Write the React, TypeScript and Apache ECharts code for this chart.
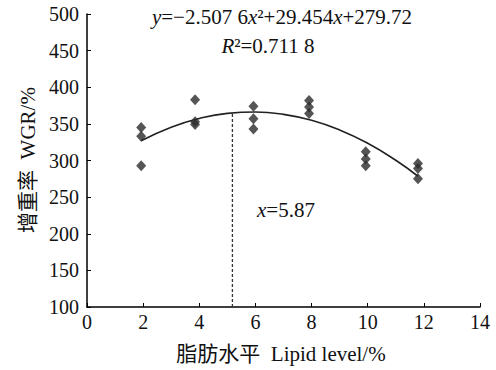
import React, { useEffect, useRef } from "react";
import * as echarts from "echarts";

const groupX = [1.93, 3.85, 5.93, 7.91, 9.93, 11.79];
const groupY = [
  [345, 333, 293],
  [383, 353, 349],
  [374, 357, 343],
  [382, 373, 364],
  [312, 302, 293],
  [296, 289, 275],
];
const curveX = [1.93, 3, 4, 5, 6, 7, 8, 9, 10, 11, 11.79];
const curveY = [327, 345.5, 357.4, 364.3, 366.2, 363, 354.9, 341.7, 323.5, 300.3, 278.5];
const optimumX = 5.18;
const optimumTop = 365;
const xTicks = [0, 2, 4, 6, 8, 10, 12, 14];
const yTicks = [100, 150, 200, 250, 300, 350, 400, 450, 500];

const SERIF = "'Liberation Serif', 'Times New Roman', 'Noto Sans CJK SC', serif";

export default function App() {
  const ref = useRef<HTMLDivElement>(null);
  useEffect(() => {
    if (!ref.current) return;
    const chart = echarts.init(ref.current, null, { renderer: "svg" });
    const scatterData: number[][] = [];
    groupX.forEach((x, i) => groupY[i].forEach((y) => scatterData.push([x, y])));
    const curveData = curveX.map((x, i) => [x, curveY[i]]);
    const FS = 21;
    chart.setOption({
      animation: false,
      backgroundColor: "#fff",
      grid: { left: 87, right: 16, top: 14, bottom: 63 },
      xAxis: {
        type: "value",
        min: xTicks[0],
        max: xTicks[xTicks.length - 1],
        interval: 2,
        axisLine: { lineStyle: { color: "#000", width: 1.5 } },
        axisTick: { inside: true, length: 4, lineStyle: { color: "#000" } },
        axisLabel: { color: "#111", fontSize: 20, fontFamily: SERIF, margin: 5 },
        splitLine: { show: false },
      },
      yAxis: {
        type: "value",
        min: yTicks[0],
        max: yTicks[yTicks.length - 1],
        interval: 50,
        axisLine: { show: true, lineStyle: { color: "#000", width: 1.5 } },
        axisTick: { show: true, inside: true, length: 4, lineStyle: { color: "#000" } },
        axisLabel: { color: "#111", fontSize: 20, fontFamily: SERIF, margin: 8 },
        splitLine: { show: false },
      },
      series: [
        {
          type: "line",
          data: curveData,
          smooth: true,
          symbol: "none",
          lineStyle: { color: "#222", width: 1.6 },
          z: 2,
        },
        {
          type: "line",
          data: [
            [optimumX, yTicks[0]],
            [optimumX, optimumTop],
          ],
          symbol: "none",
          lineStyle: { color: "#333", width: 1.3, type: [3, 2] },
          z: 1,
        },
        {
          type: "scatter",
          data: scatterData,
          symbol: "diamond",
          symbolSize: [10, 11],
          itemStyle: { color: "#2b2b2b" },
          z: 3,
        },
      ],
      graphic: [
        {
          type: "text",
          x: 282,
          y: 17,
          style: {
            text: "{i|y}=−2.507 6{i|x}²+29.454{i|x}+279.72",
            align: "center",
            verticalAlign: "middle",
            fontSize: FS,
            fontFamily: SERIF,
            fill: "#111",
            rich: { i: { fontStyle: "italic", fontSize: FS, fontFamily: SERIF, fill: "#111" } },
          },
        },
        {
          type: "text",
          x: 268,
          y: 46,
          style: {
            text: "{i|R}²=0.711 8",
            align: "center",
            verticalAlign: "middle",
            fontSize: FS,
            fontFamily: SERIF,
            fill: "#111",
            rich: { i: { fontStyle: "italic", fontSize: FS, fontFamily: SERIF, fill: "#111" } },
          },
        },
        {
          type: "text",
          x: 257,
          y: 210,
          style: {
            text: "{i|x}=5.87",
            align: "left",
            verticalAlign: "middle",
            fontSize: FS,
            fontFamily: SERIF,
            fill: "#111",
            rich: { i: { fontStyle: "italic", fontSize: FS, fontFamily: SERIF, fill: "#111" } },
          },
        },
        {
          type: "text",
          x: 281,
          y: 354,
          style: {
            text: "脂肪水平  Lipid level/%",
            align: "center",
            verticalAlign: "middle",
            fontSize: FS,
            fontFamily: SERIF,
            fill: "#111",
          },
        },
        {
          type: "text",
          x: 28,
          y: 160,
          rotation: Math.PI / 2,
          style: {
            text: "增重率  WGR/%",
            align: "center",
            verticalAlign: "middle",
            fontSize: FS,
            fontFamily: SERIF,
            fill: "#111",
          },
        },
      ],
    });
    return () => chart.dispose();
  }, []);
  return (
    <div
      ref={ref}
      style={{ position: "fixed", left: 0, top: 0, width: 496, height: 370 }}
    />
  );
}
